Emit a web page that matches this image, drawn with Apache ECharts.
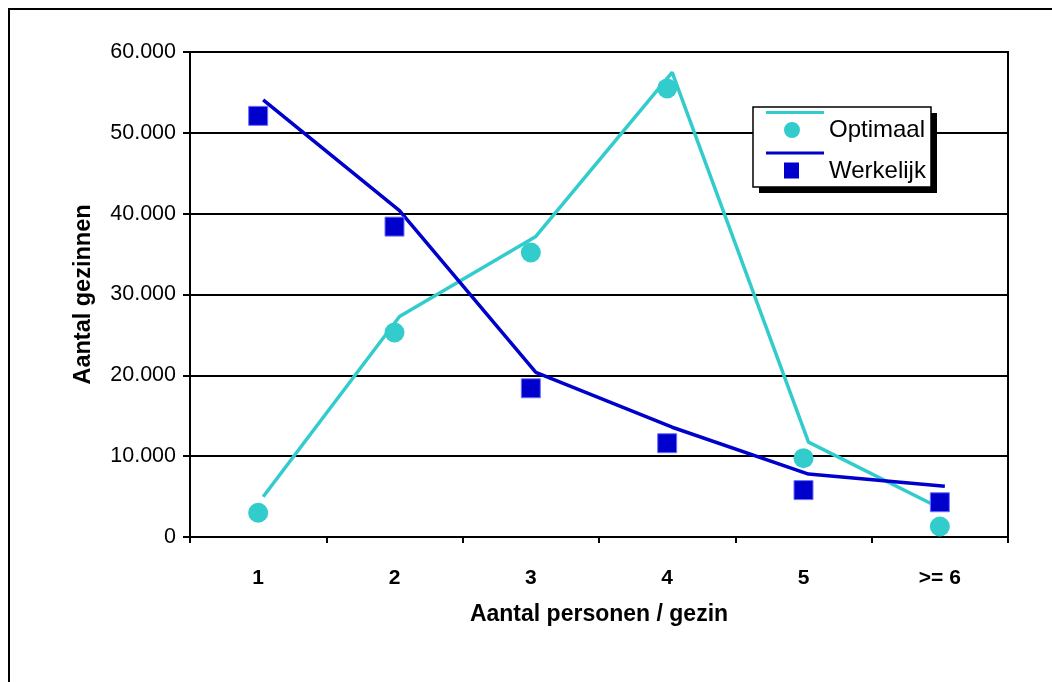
<!DOCTYPE html>
<html>
<head>
<meta charset="utf-8">
<script src="https://cdn.jsdelivr.net/npm/echarts@6/dist/echarts.min.js"></script>
<style>
  html, body { margin: 0; padding: 0; background: #fff; }
  #chart { width: 1052px; height: 682px; }
</style>
</head>
<body>
<div id="chart"></div>
<script>
// Household size categories and counts (number of families)
const categories = ['1', '2', '3', '4', '5', '>= 6'];
const optimaal = [3000, 25300, 35200, 55500, 9750, 1300];
const werkelijk = [52100, 38400, 18400, 11600, 5800, 4300];

// Value axis range
const yMin = 0;
const yMax = 60000;
const yStep = 10000;

const cyan = '#33CCCC';
const blue = '#0000CC';
const font = '"Liberation Sans", Arial, sans-serif';

// Legend icons: line sample on top, marker underneath
const circleIcon = 'path://M0,0 L58,0 L58,3 L0,3 Z M18,19 A8,8 0 1,1 34,19 A8,8 0 1,1 18,19 Z';
const squareIcon = 'path://M0,0 L58,0 L58,3 L0,3 Z M18,11 L33,11 L33,27 L18,27 Z';

// Legend frame
const legendBox = { x: 753, y: 107, width: 178, height: 80 };

function fmtThousands(v) {
  return String(v).replace(/\B(?=(\d{3})+(?!\d))/g, '.');
}

const chart = echarts.init(document.getElementById('chart'), null, { renderer: 'canvas' });

chart.setOption({
  animation: false,
  backgroundColor: '#fff',
  graphic: [
    {
      type: 'rect',
      shape: { x: 9, y: 9, width: 1200, height: 900 },
      style: { fill: 'none', stroke: '#000', lineWidth: 2 },
      z: -1
    },
    {
      // drop shadow of the legend frame
      type: 'rect',
      shape: { x: legendBox.x + 6, y: legendBox.y + 6, width: legendBox.width, height: legendBox.height },
      style: { fill: '#000' },
      z: 3
    },
    {
      type: 'rect',
      shape: { x: legendBox.x, y: legendBox.y, width: legendBox.width, height: legendBox.height },
      style: { fill: '#fff', stroke: '#000', lineWidth: 1.5 },
      z: 3
    }
  ],
  grid: [
    { left: 190, right: 44, top: 52, bottom: 145, show: true, borderColor: '#000', borderWidth: 2, backgroundColor: 'transparent' },
    // trend lines are drawn on a slightly displaced copy of the plot
    { left: 195, right: 39, top: 36, bottom: 161, show: false }
  ],
  legend: {
    orient: 'vertical',
    left: legendBox.x,
    top: legendBox.y,
    padding: [4, 5, 9, 13],
    itemGap: 9,
    itemWidth: 58,
    itemHeight: 27,
    itemStyle: { borderWidth: 0 },
    formatter: '{t|{name}}',
    textStyle: {
      fontFamily: font,
      fontSize: 24,
      color: '#000',
      rich: { t: { fontFamily: font, fontSize: 24, color: '#000', padding: [12, 0, 0, 0] } }
    },
    z: 4,
    data: [
      { name: 'Optimaal', icon: circleIcon },
      { name: 'Werkelijk', icon: squareIcon }
    ]
  },
  xAxis: [
    {
      type: 'category',
      gridIndex: 0,
      data: categories,
      boundaryGap: true,
      axisLine: { lineStyle: { color: '#000', width: 2 } },
      axisTick: { show: true, inside: false, length: 6, lineStyle: { color: '#000', width: 2 } },
      axisLabel: { color: '#000', fontFamily: font, fontSize: 21, fontWeight: 'bold', margin: 31 },
      name: 'Aantal personen / gezin',
      nameLocation: 'middle',
      nameGap: 66,
      nameTextStyle: { color: '#000', fontFamily: font, fontSize: 23, fontWeight: 'bold' },
      splitLine: { show: false }
    },
    {
      type: 'category',
      gridIndex: 1,
      data: categories,
      boundaryGap: true,
      show: false
    }
  ],
  yAxis: [
    {
      type: 'value',
      gridIndex: 0,
      min: yMin,
      max: yMax,
      interval: yStep,
      axisLine: { show: true, lineStyle: { color: '#000', width: 2 } },
      axisTick: { show: true, inside: false, length: 7, lineStyle: { color: '#000', width: 2 } },
      axisLabel: { color: '#000', fontFamily: font, fontSize: 21.5, margin: 14, formatter: fmtThousands },
      splitLine: { show: true, lineStyle: { color: '#000', width: 2 } },
      name: 'Aantal gezinnen',
      nameLocation: 'middle',
      nameGap: 94,
      nameTextStyle: { color: '#000', fontFamily: font, fontSize: 23.5, fontWeight: 'bold' }
    },
    {
      type: 'value',
      gridIndex: 1,
      min: yMin,
      max: yMax,
      interval: yStep,
      show: false,
      splitLine: { show: false }
    }
  ],
  series: [
    {
      name: 'Optimaal',
      type: 'scatter',
      xAxisIndex: 0,
      yAxisIndex: 0,
      data: optimaal,
      symbol: 'circle',
      symbolSize: 20,
      itemStyle: { color: cyan, opacity: 1 },
      z: 2
    },
    {
      name: 'Werkelijk',
      type: 'scatter',
      xAxisIndex: 0,
      yAxisIndex: 0,
      data: werkelijk,
      symbol: 'rect',
      symbolSize: 19,
      itemStyle: { color: blue, borderColor: '#7070ff', borderWidth: 1, opacity: 1 },
      z: 5
    },
    {
      name: 'Optimaal',
      type: 'line',
      xAxisIndex: 1,
      yAxisIndex: 1,
      data: optimaal,
      showSymbol: false,
      symbol: 'none',
      lineStyle: { color: cyan, width: 3.5 },
      itemStyle: { color: cyan },
      z: 3
    },
    {
      name: 'Werkelijk',
      type: 'line',
      xAxisIndex: 1,
      yAxisIndex: 1,
      data: werkelijk,
      showSymbol: false,
      symbol: 'none',
      lineStyle: { color: blue, width: 3.5 },
      itemStyle: { color: blue },
      z: 4
    }
  ]
});
</script>
</body>
</html>
